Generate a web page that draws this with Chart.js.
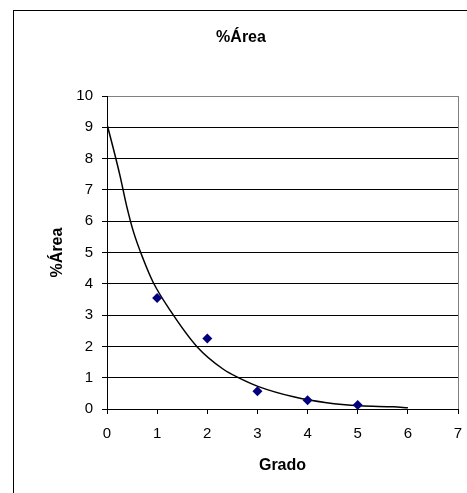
<!DOCTYPE html>
<html>
<head>
<meta charset="utf-8">
<script src="https://cdn.jsdelivr.net/npm/chart.js@4"></script>
<style>
  html, body { margin: 0; padding: 0; background: #fff; }
  #wrap { position: relative; width: 467px; height: 493px; }
</style>
</head>
<body>
<div id="wrap"><canvas id="area-chart" width="467" height="493"></canvas></div>
<script>
// measured points (Grado vs %Área)
const grado = [1, 2, 3, 4, 5];
const area  = [3.55, 2.25, 0.57, 0.28, 0.13];

// exponential trend line
const trendX = [0, 0.13, 0.26, 0.39, 0.53, 0.72, 0.92, 1.26, 1.79, 2.32, 2.65, 3.05, 3.72, 4.38, 5.05, 5.71, 6.0];
const trendY = [9.1, 8.3, 7.45, 6.5, 5.65, 4.8, 4.05, 3.15, 2.0, 1.27, 0.98, 0.7, 0.39, 0.2, 0.1, 0.07, 0.04];

const xTicks = [0, 1, 2, 3, 4, 5, 6, 7];
const yTicks = [0, 1, 2, 3, 4, 5, 6, 7, 8, 9, 10];

const chartTitle = '%Área';
const xTitle = 'Grado';
const yTitle = '%Área';

const FONT = '"Liberation Sans", Arial, sans-serif';

// outer frame + chart title (Excel style)
const framePlugin = {
  id: 'frame',
  beforeDraw(chart) {
    const c = chart.ctx;
    c.save();
    c.fillStyle = '#fff';
    c.fillRect(0, 0, chart.width, chart.height);
    c.strokeStyle = '#000';
    c.lineWidth = 1;
    c.strokeRect(13.5, 10.5, 500, 500);
    c.restore();
  },
  afterDraw(chart) {
    const c = chart.ctx;
    c.save();
    c.fillStyle = '#000';
    c.font = 'bold 16px ' + FONT;
    c.textAlign = 'center';
    c.textBaseline = 'alphabetic';
    c.fillText(chartTitle, 241, 42);
    c.restore();
  }
};

new Chart(document.getElementById('area-chart'), {
  type: 'scatter',
  data: {
    datasets: [
      {
        label: yTitle,
        data: grado.map((g, i) => ({ x: g, y: area[i] })),
        pointStyle: 'rectRot',
        pointRadius: 5,
        pointHoverRadius: 5,
        backgroundColor: '#000080',
        borderColor: '#000080',
        borderWidth: 0,
        showLine: false,
        order: 0
      },
      {
        label: 'Trend',
        data: trendX.map((x, i) => ({ x, y: trendY[i] })),
        showLine: true,
        pointRadius: 0,
        borderColor: '#000',
        borderWidth: 1.5,
        cubicInterpolationMode: 'monotone',
        fill: false,
        order: 1
      }
    ]
  },
  options: {
    responsive: false,
    animation: false,
    layout: { padding: { top: 96, right: 0, left: 0, bottom: 0 } },
    plugins: {
      legend: { display: false },
      tooltip: { enabled: false },
      title: { display: false }
    },
    scales: {
      x: {
        type: 'linear',
        min: 0, max: 7,
        afterFit: s => { s.height = 84; s.paddingLeft = 0; s.paddingRight = 9; },
        afterBuildTicks: s => { s.ticks = xTicks.map(v => ({ value: v })); },
        grid: {
          color: c => (c.tick && c.tick.value === 7 ? '#808080' : 'rgba(0,0,0,0)'),
          tickColor: '#000',
          tickLength: 5,
          lineWidth: 1
        },
        border: { color: '#000', width: 1 },
        ticks: { color: '#000', padding: 11, font: { family: FONT, size: 15 }, maxRotation: 0 },
        title: {
          display: true, text: xTitle, color: '#000',
          font: { family: FONT, size: 16, weight: 'bold' },
          padding: { top: 0, bottom: 18 }
        }
      },
      y: {
        type: 'linear',
        min: 0, max: 10,
        afterFit: s => { s.width = 107; },
        afterBuildTicks: s => { s.ticks = yTicks.map(v => ({ value: v })); },
        grid: {
          color: c => (c.tick && c.tick.value === 10 ? '#808080' : '#000'),
          tickColor: '#000',
          tickLength: 5,
          lineWidth: 1
        },
        border: { color: '#000', width: 1 },
        ticks: { color: '#000', padding: 9, font: { family: FONT, size: 15 } },
        title: {
          display: true, text: yTitle, color: '#000',
          font: { family: FONT, size: 16, weight: 'bold' },
          padding: { top: 48, bottom: 0 }
        }
      }
    }
  },
  plugins: [framePlugin]
});
</script>
</body>
</html>
